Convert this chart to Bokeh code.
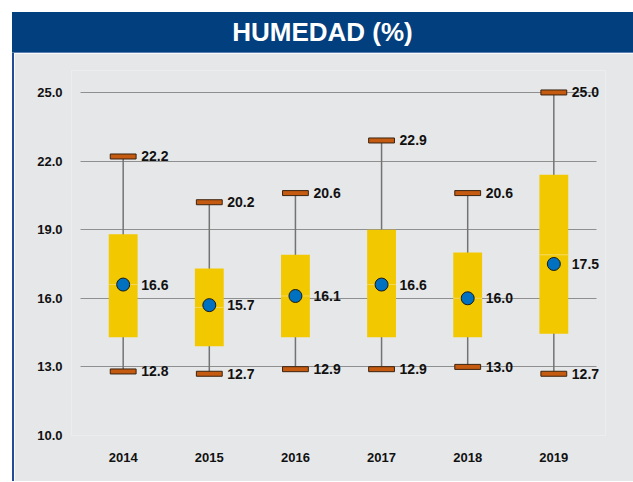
from bokeh.plotting import figure
from bokeh.models import (ColumnDataSource, FixedTicker, NumeralTickFormatter, Div, Range1d,
                          FactorRange, LabelSet, Grid)
from bokeh.layouts import column, row
from bokeh.core.properties import value
from bokeh.embed import file_html
from bokeh.resources import INLINE

years = ["2014", "2015", "2016", "2017", "2018", "2019"]
q1 = [14.3, 13.9, 14.3, 14.3, 14.3, 14.45]
median = [16.6, 15.6, 16.1, 16.6, 16.0, 17.9]
q3 = [18.8, 17.3, 17.9, 19.0, 18.0, 21.4]
mins = [12.8, 12.7, 12.9, 12.9, 13.0, 12.7]
maxs = [22.2, 20.2, 20.6, 22.9, 20.6, 25.0]
means = [16.6, 15.7, 16.1, 16.6, 16.0, 17.5]
y_ticks = [10, 13, 16, 19, 22, 25]

bg = "#E6E7E9"
navy = "#023F7E"

src = ColumnDataSource(dict(
    x=years, q1=q1, med=median, q3=q3, lo=mins, hi=maxs, mean=means,
    lo_t=["%.1f" % v for v in mins],
    hi_t=["%.1f" % v for v in maxs],
    mean_t=["%.1f" % v for v in means],
))

xr = FactorRange(factors=years, range_padding=0.1, range_padding_units="absolute")
p = figure(width=619, height=428, x_range=xr,
           y_range=Range1d(10, 25.96), output_backend="svg", toolbar_location=None,
           min_border_left=57, min_border_right=28, min_border_top=17, min_border_bottom=46,
           background_fill_color=bg, border_fill_color=bg,
           outline_line_color=None, margin=0)

# whiskers
p.segment(x0="x", y0="lo", x1="x", y1="hi", source=src, line_color="#737373", line_width=1.5)
# boxes
p.vbar(x="x", bottom="q1", top="med", width=0.335, source=src, fill_color="#F2C900", line_color=None)
p.vbar(x="x", bottom="med", top="q3", width=0.335, source=src, fill_color="#F2C900", line_color=None)
p.segment(x0=[(y, -0.1675) for y in years], y0=median, x1=[(y, 0.1675) for y in years], y1=median,
          line_color="#F5D85A", line_width=1)
# caps
for col in ("lo", "hi"):
    p.rect(x="x", y=col, width=0.30, height=5, height_units="screen", source=src,
           fill_color="#C55A11", line_color="#3B2410", line_width=1)
# mean dots
p.scatter(x="x", y="mean", size=13, source=src, fill_color="#0070C0", line_color="#1A1A1A", line_width=1)

# labels
for ycol, tcol in (("lo", "lo_t"), ("hi", "hi_t"), ("mean", "mean_t")):
    p.add_layout(LabelSet(x="x", y=ycol, text=tcol, source=src, x_offset=18, text_baseline="middle",
                          text_align="left", text_font=value("Liberation Sans"),
                          text_font_style="bold", text_font_size="14px", text_color="#111111"))

p.yaxis.ticker = FixedTicker(ticks=y_ticks)
p.yaxis.formatter = NumeralTickFormatter(format="0.0")
p.ygrid.ticker = FixedTicker(ticks=y_ticks[1:])
p.ygrid.grid_line_color = "#8F8F8F"
p.ygrid.grid_line_width = 1
p.ygrid.cross_bounds = (0, len(years))
p.xgrid.grid_line_color = None
base = Grid(dimension=1, ticker=FixedTicker(ticks=y_ticks[:1]), grid_line_color="#D6D6D6",
            cross_bounds=(0, len(years)))
p.add_layout(base)
for ax in (p.xaxis[0], p.yaxis[0]):
    ax.major_tick_line_color = None
    ax.minor_tick_line_color = None
    ax.major_label_text_font = "Liberation Sans"
    ax.major_label_text_font_style = "bold"
    ax.major_label_text_font_size = "13px"
    ax.major_label_text_color = "#111111"
p.yaxis.axis_line_color = None
p.yaxis.major_label_standoff = 3
p.xaxis.axis_line_color = None
p.xaxis.major_label_standoff = 11

title = Div(text="HUMEDAD (%)", width=621, height=41, margin=0,
            styles={"background-color": navy, "color": "white", "font-family": "Liberation Sans",
                    "font-size": "26px", "font-weight": "bold", "text-align": "center",
                    "line-height": "41px", "border-bottom": "1px solid #5A7FB0",
                    "box-sizing": "border-box"})
strip = Div(text="", width=2, height=428, margin=0, styles={"background-color": "#1F4E96"})

layout = column(title, row(strip, p, margin=0, spacing=0), margin=(12, 0, 0, 12), spacing=0)

open("out.html", "w").write(file_html(layout, INLINE))
